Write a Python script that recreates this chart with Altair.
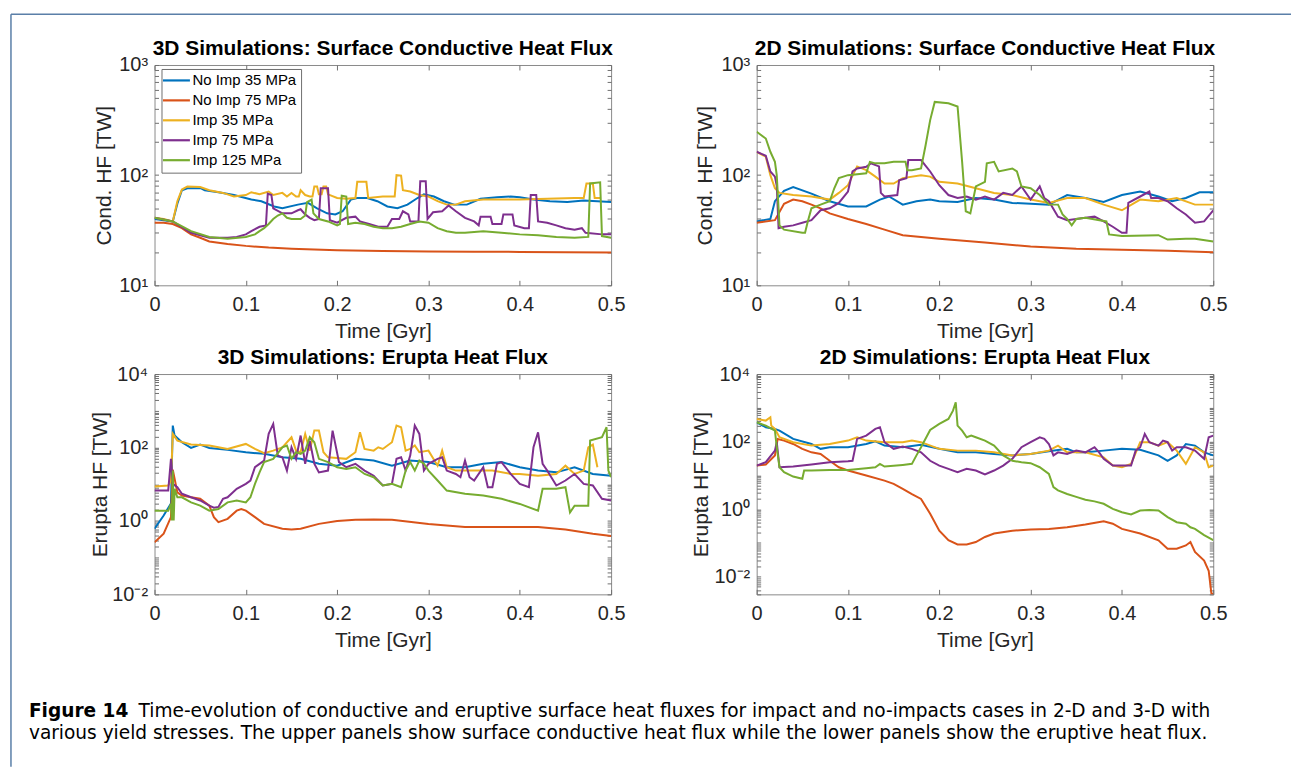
import altair as alt
import pandas as pd

SERIES = ["No Imp 35 MPa", "No Imp 75 MPa", "Imp 35 MPa", "Imp 75 MPa", "Imp 125 MPa"]
COLORS = ["#0072BD", "#D95319", "#EDB120", "#7E2F8E", "#77AC30"]

# ---------------- 3D conductive heat flux (t [Gyr], HF [TW]) ----------------
C3_NOIMP35 = [(0, 40), (0.01, 39), (0.02, 38), (0.025, 55), (0.03, 73), (0.036, 76), (0.051, 76), (0.055, 73),
              (0.07, 70), (0.087, 66), (0.106, 60), (0.117, 58), (0.131, 52), (0.14, 50), (0.157, 54), (0.168, 56),
              (0.178, 50), (0.189, 45), (0.198, 44), (0.206, 47), (0.215, 60), (0.222, 62), (0.233, 62), (0.244, 58),
              (0.255, 52), (0.266, 50), (0.277, 54), (0.288, 62), (0.295, 67), (0.306, 64), (0.317, 58), (0.328, 54),
              (0.342, 54), (0.357, 61), (0.375, 63), (0.39, 64), (0.4, 63), (0.415, 60), (0.433, 58), (0.452, 57),
              (0.47, 59), (0.5, 57)]
C3_NOIMP75 = [(0, 37), (0.01, 37), (0.02, 36), (0.03, 33), (0.04, 29), (0.05, 27), (0.06, 25), (0.08, 23.7),
              (0.1, 22.8), (0.125, 22), (0.15, 21.5), (0.2, 20.8), (0.25, 20.5), (0.3, 20.3), (0.35, 20.2),
              (0.4, 20.1), (0.45, 20), (0.5, 19.9)]
C3_IMP35 = [(0, 41), (0.01, 40), (0.02, 38), (0.025, 58), (0.03, 74), (0.036, 79), (0.05, 78), (0.06, 73),
            (0.075, 69), (0.087, 64), (0.1, 66), (0.106, 70), (0.115, 67), (0.125, 71), (0.13, 66), (0.14, 69),
            (0.145, 64), (0.15, 69), (0.155, 64), (0.158, 64), (0.16, 73), (0.165, 66), (0.17, 64), (0.173, 64),
            (0.175, 79), (0.178, 79), (0.18, 67), (0.183, 67), (0.185, 79), (0.188, 79), (0.19, 67), (0.2, 62),
            (0.21, 61), (0.22, 62), (0.222, 87), (0.232, 87), (0.234, 62), (0.25, 64), (0.263, 64), (0.265, 100),
            (0.27, 99), (0.272, 73), (0.28, 71), (0.29, 66), (0.3, 64), (0.31, 58), (0.32, 54), (0.33, 54),
            (0.34, 58), (0.36, 60), (0.4, 60), (0.43, 61), (0.46, 62), (0.47, 62), (0.473, 84), (0.48, 84),
            (0.482, 62), (0.488, 62)]
C3_IMP75 = [(0, 41), (0.02, 38), (0.04, 30), (0.06, 27), (0.08, 27), (0.09, 27.5), (0.1, 29), (0.106, 31),
            (0.115, 34), (0.122, 35), (0.124, 68), (0.128, 66), (0.13, 50), (0.14, 45), (0.15, 45), (0.157, 48),
            (0.16, 49), (0.165, 44), (0.17, 41), (0.175, 39), (0.18, 40), (0.182, 76), (0.19, 76), (0.192, 39),
            (0.2, 37), (0.21, 41), (0.22, 42), (0.225, 38), (0.235, 36), (0.245, 34), (0.255, 34), (0.26, 40),
            (0.268, 40), (0.272, 47), (0.278, 44), (0.28, 38), (0.289, 38), (0.291, 88), (0.297, 88), (0.299, 40),
            (0.305, 46), (0.315, 47), (0.322, 53), (0.33, 47), (0.34, 41), (0.35, 38), (0.355, 35), (0.357, 42),
            (0.368, 42), (0.37, 36), (0.38, 36), (0.382, 44), (0.392, 44), (0.394, 35), (0.405, 33), (0.41, 33),
            (0.412, 66), (0.418, 66), (0.42, 38), (0.43, 37), (0.44, 35), (0.45, 33), (0.46, 32), (0.468, 33),
            (0.472, 30), (0.49, 29), (0.5, 29)]
C3_IMP125 = [(0, 41), (0.02, 38), (0.04, 31), (0.06, 27.5), (0.08, 26.5), (0.1, 27.5), (0.11, 29), (0.115, 31),
             (0.12, 33), (0.125, 36), (0.13, 40), (0.135, 43), (0.14, 45), (0.145, 41), (0.15, 40), (0.16, 40),
             (0.165, 43), (0.167, 57), (0.172, 60), (0.174, 45), (0.18, 40), (0.19, 38), (0.2, 35), (0.203, 36),
             (0.205, 65), (0.21, 64), (0.212, 36), (0.22, 37), (0.23, 36), (0.24, 34), (0.25, 33), (0.26, 33),
             (0.27, 34), (0.28, 36), (0.29, 38), (0.3, 37), (0.31, 33), (0.32, 31), (0.33, 30), (0.34, 30),
             (0.36, 31), (0.38, 30), (0.4, 29), (0.42, 28.5), (0.44, 27.5), (0.46, 27), (0.475, 27.5), (0.477, 84),
             (0.488, 86), (0.49, 28), (0.5, 27)]

# ---------------- 2D conductive heat flux ----------------
C2_NOIMP35 = [(0, 38), (0.015, 40), (0.02, 58), (0.03, 72), (0.04, 78), (0.06, 68), (0.08, 58), (0.1, 52),
              (0.12, 52), (0.135, 60), (0.145, 64), (0.16, 54), (0.175, 58), (0.19, 60), (0.2, 58), (0.22, 57),
              (0.24, 62), (0.26, 60), (0.28, 56), (0.3, 55), (0.32, 54), (0.34, 66), (0.36, 62), (0.38, 57),
              (0.4, 66), (0.42, 71), (0.44, 64), (0.455, 58), (0.47, 62), (0.485, 70), (0.5, 70)]
C2_NOIMP75 = [(0, 37), (0.02, 39), (0.03, 55), (0.04, 60), (0.05, 58), (0.06, 54), (0.07, 50), (0.08, 45),
              (0.1, 40), (0.12, 36), (0.14, 32), (0.16, 28.5), (0.2, 26.5), (0.25, 24.5), (0.3, 22.5),
              (0.35, 21.5), (0.4, 21), (0.45, 20.6), (0.5, 20)]
C2_IMP35 = [(0, 163), (0.01, 147), (0.015, 100), (0.02, 76), (0.025, 69), (0.04, 66), (0.06, 64), (0.08, 60),
            (0.09, 69), (0.1, 81), (0.11, 120), (0.12, 111), (0.13, 97), (0.14, 84), (0.15, 84), (0.16, 94),
            (0.18, 100), (0.19, 97), (0.2, 87), (0.22, 84), (0.24, 76), (0.26, 69), (0.28, 66), (0.3, 60),
            (0.32, 56), (0.34, 62), (0.36, 62), (0.38, 54), (0.4, 48), (0.42, 60), (0.44, 58), (0.46, 62),
            (0.48, 54), (0.5, 54)]
C2_IMP75 = [(0, 163), (0.01, 150), (0.015, 108), (0.02, 97), (0.022, 80), (0.024, 33), (0.03, 34), (0.04, 35),
            (0.05, 37), (0.06, 39), (0.07, 48), (0.08, 50), (0.09, 56), (0.1, 71), (0.105, 108), (0.11, 115),
            (0.12, 119), (0.125, 128), (0.134, 120), (0.136, 69), (0.14, 64), (0.154, 66), (0.156, 90),
            (0.164, 94), (0.166, 137), (0.18, 137), (0.19, 108), (0.2, 81), (0.21, 66), (0.22, 62), (0.23, 64),
            (0.24, 60), (0.25, 64), (0.26, 60), (0.27, 69), (0.28, 66), (0.29, 79), (0.3, 60), (0.31, 79),
            (0.315, 62), (0.32, 58), (0.33, 42), (0.34, 39), (0.36, 41), (0.37, 42), (0.38, 38), (0.39, 34),
            (0.4, 30), (0.405, 30), (0.407, 56), (0.42, 64), (0.43, 71), (0.432, 62), (0.44, 62), (0.45, 58),
            (0.46, 50), (0.47, 44), (0.48, 37), (0.49, 38), (0.5, 48)]
C2_IMP125 = [(0, 248), (0.01, 215), (0.015, 163), (0.02, 132), (0.022, 100), (0.025, 35), (0.03, 32), (0.05, 30),
             (0.053, 30), (0.056, 38), (0.06, 50), (0.07, 54), (0.08, 58), (0.085, 76), (0.09, 94), (0.1, 100),
             (0.12, 104), (0.124, 132), (0.13, 128), (0.14, 128), (0.15, 132), (0.163, 132), (0.165, 111),
             (0.17, 111), (0.18, 115), (0.185, 187), (0.19, 316), (0.195, 462), (0.21, 450), (0.22, 420),
             (0.225, 132), (0.229, 47), (0.234, 45), (0.24, 79), (0.25, 87), (0.252, 128), (0.26, 132),
             (0.265, 108), (0.28, 115), (0.285, 108), (0.29, 79), (0.3, 76), (0.31, 66), (0.32, 54), (0.33, 54),
             (0.335, 44), (0.34, 40), (0.345, 35), (0.35, 40), (0.36, 41), (0.383, 38), (0.386, 29), (0.4, 28),
             (0.44, 28.5), (0.45, 26), (0.47, 26.5), (0.48, 26.5), (0.5, 25)]

# ---------------- 3D erupta heat flux ----------------
E3_NOIMP35 = [(0, 0.61), (0.01, 1.4), (0.018, 3), (0.02, 394), (0.022, 211), (0.03, 139), (0.04, 97), (0.05, 120),
              (0.06, 97), (0.08, 86), (0.1, 74), (0.12, 67), (0.14, 54), (0.16, 49), (0.18, 36), (0.2, 32),
              (0.22, 49), (0.24, 44), (0.26, 32), (0.28, 44), (0.3, 40), (0.32, 29), (0.34, 29), (0.36, 36),
              (0.38, 40), (0.4, 29), (0.42, 23.5), (0.44, 21), (0.46, 29), (0.48, 19), (0.5, 17)]
E3_NOIMP75 = [(0, 0.26), (0.01, 0.45), (0.018, 1.27), (0.02, 25), (0.025, 6), (0.03, 4.9), (0.04, 4.4), (0.05, 4.0),
              (0.06, 2.6), (0.065, 1.27), (0.07, 0.93), (0.08, 1.14), (0.09, 1.9), (0.095, 2.1), (0.1, 1.9),
              (0.11, 1.27), (0.12, 0.83), (0.14, 0.61), (0.15, 0.58), (0.16, 0.61), (0.18, 0.83), (0.2, 0.99),
              (0.22, 1.07), (0.24, 1.09), (0.26, 1.07), (0.3, 0.83), (0.34, 0.68), (0.38, 0.68), (0.42, 0.68),
              (0.45, 0.58), (0.48, 0.45), (0.5, 0.39)]
E3_IMP35 = [(0, 8.6), (0.015, 9.2), (0.018, 12.6), (0.02, 234), (0.025, 154), (0.04, 120), (0.06, 113), (0.08, 91),
            (0.1, 125), (0.11, 91), (0.12, 70), (0.13, 82), (0.14, 101), (0.15, 190), (0.155, 82), (0.16, 74),
            (0.165, 234), (0.17, 82), (0.175, 288), (0.18, 288), (0.185, 74), (0.19, 54), (0.2, 52), (0.21, 49),
            (0.22, 74), (0.225, 259), (0.23, 91), (0.24, 82), (0.245, 101), (0.25, 91), (0.26, 139), (0.265, 394),
            (0.27, 355), (0.275, 82), (0.28, 91), (0.285, 113), (0.29, 74), (0.3, 82), (0.31, 32), (0.315, 82),
            (0.32, 29), (0.33, 23.5), (0.35, 23.5), (0.37, 23.5), (0.39, 19), (0.4, 19), (0.42, 17), (0.44, 19),
            (0.45, 32), (0.46, 19), (0.47, 23.5), (0.475, 101), (0.48, 120), (0.485, 29)]
E3_IMP75 = [(0, 6.7), (0.015, 6.7), (0.018, 49), (0.02, 10.2), (0.025, 8.3), (0.03, 5.5), (0.04, 4.4), (0.05, 3.6),
            (0.06, 2.6), (0.065, 2.3), (0.07, 2.4), (0.075, 4.0), (0.08, 4.4), (0.09, 7.5), (0.1, 10.2),
            (0.105, 12.6), (0.11, 29), (0.12, 44), (0.125, 234), (0.13, 437), (0.135, 60), (0.14, 54),
            (0.145, 23.5), (0.15, 101), (0.155, 49), (0.16, 211), (0.165, 36), (0.17, 154), (0.175, 36),
            (0.18, 21), (0.19, 23.5), (0.195, 288), (0.202, 40), (0.21, 29), (0.22, 36), (0.23, 23.5), (0.24, 17),
            (0.25, 9.2), (0.26, 10.2), (0.265, 49), (0.27, 54), (0.275, 23.5), (0.28, 60), (0.285, 394),
            (0.29, 234), (0.295, 23.5), (0.3, 36), (0.31, 49), (0.315, 54), (0.32, 23.5), (0.33, 19),
            (0.335, 15.5), (0.34, 44), (0.345, 15.5), (0.35, 12.6), (0.36, 29), (0.365, 8.3), (0.37, 8.3),
            (0.375, 36), (0.38, 40), (0.39, 19), (0.4, 10.2), (0.41, 8.3), (0.415, 101), (0.42, 259),
            (0.425, 36), (0.43, 23.5), (0.44, 9.2), (0.45, 12.6), (0.46, 19), (0.47, 10.2), (0.48, 9.2),
            (0.49, 4.0), (0.5, 3.6)]
E3_IMP125 = [(0, 1.9), (0.015, 1.9), (0.018, 2.9), (0.019, 1.03), (0.02, 23.5), (0.021, 1.03), (0.022, 7.5),
             (0.025, 4.4), (0.03, 4.4), (0.04, 3.2), (0.05, 2.6), (0.06, 1.9), (0.07, 2.1), (0.08, 3.2), (0.09, 3.6),
             (0.1, 3.2), (0.105, 4.4), (0.11, 10.2), (0.115, 21), (0.12, 40), (0.13, 49), (0.14, 101), (0.145, 113),
             (0.15, 49), (0.155, 74), (0.16, 67), (0.165, 82), (0.17, 190), (0.175, 139), (0.18, 49), (0.19, 40),
             (0.2, 29), (0.21, 26), (0.22, 29), (0.23, 19), (0.24, 15.5), (0.25, 9.2), (0.26, 10.2), (0.265, 9.2),
             (0.27, 8.3), (0.275, 23.5), (0.28, 40), (0.285, 23.5), (0.29, 44), (0.295, 36), (0.3, 23.5),
             (0.31, 12.6), (0.32, 6.7), (0.34, 5.5), (0.36, 4.9), (0.38, 4.0), (0.4, 2.9), (0.42, 1.9),
             (0.425, 7.5), (0.44, 7.5), (0.45, 8.3), (0.455, 1.7), (0.46, 2.6), (0.475, 2.6), (0.477, 154),
             (0.49, 190), (0.495, 355), (0.497, 23.5), (0.5, 15.5)]

# ---------------- 2D erupta heat flux ----------------
E2_NOIMP35 = [(0, 373), (0.01, 265), (0.02, 237), (0.025, 211), (0.04, 120), (0.06, 85), (0.07, 61), (0.08, 68),
              (0.1, 68), (0.12, 85), (0.13, 102), (0.14, 76), (0.16, 68), (0.18, 81), (0.2, 61), (0.22, 48),
              (0.24, 48), (0.26, 43), (0.28, 39), (0.3, 43), (0.32, 52), (0.34, 61), (0.35, 48), (0.36, 48),
              (0.38, 54), (0.4, 61), (0.42, 57), (0.44, 39), (0.45, 27), (0.46, 39), (0.47, 85), (0.48, 76),
              (0.49, 48), (0.5, 39)]
E2_NOIMP75 = [(0, 19.5), (0.01, 21), (0.02, 39), (0.023, 120), (0.03, 107), (0.04, 85), (0.05, 61), (0.06, 48),
              (0.07, 43), (0.08, 27), (0.09, 17.4), (0.1, 13.9), (0.12, 9.9), (0.14, 7.0), (0.15, 5.6), (0.16, 4.0),
              (0.17, 2.8), (0.18, 2.0), (0.19, 0.73), (0.2, 0.23), (0.21, 0.12), (0.22, 0.09), (0.23, 0.09),
              (0.24, 0.106), (0.25, 0.15), (0.26, 0.19), (0.28, 0.23), (0.3, 0.25), (0.32, 0.26), (0.34, 0.29),
              (0.36, 0.35), (0.38, 0.44), (0.39, 0.37), (0.4, 0.26), (0.42, 0.19), (0.44, 0.12), (0.45, 0.067),
              (0.46, 0.067), (0.47, 0.084), (0.475, 0.106), (0.48, 0.054), (0.49, 0.03), (0.495, 0.015),
              (0.498, 0.0031), (0.5, 0.0031)]
E2_IMP35 = [(0, 468), (0.01, 418), (0.015, 524), (0.016, 297), (0.02, 237), (0.025, 134), (0.04, 96), (0.06, 76),
            (0.08, 85), (0.1, 107), (0.11, 134), (0.12, 107), (0.14, 96), (0.16, 96), (0.17, 107), (0.18, 96),
            (0.2, 61), (0.22, 54), (0.24, 54), (0.26, 48), (0.28, 39), (0.3, 43), (0.32, 54), (0.33, 76),
            (0.34, 48), (0.36, 48), (0.38, 34), (0.39, 19.5), (0.4, 17.4), (0.41, 21.9), (0.42, 96), (0.43, 96),
            (0.44, 76), (0.45, 96), (0.46, 54), (0.47, 21.9), (0.48, 68), (0.49, 48), (0.495, 17.4), (0.5, 19.5)]
E2_IMP75 = [(0, 19.5), (0.01, 24.5), (0.02, 54), (0.022, 96), (0.025, 17.4), (0.04, 18.2), (0.06, 20.9),
            (0.08, 24.5), (0.1, 26), (0.105, 27), (0.11, 120), (0.12, 150), (0.13, 237), (0.135, 265), (0.14, 96),
            (0.15, 61), (0.16, 71), (0.17, 61), (0.18, 48), (0.19, 27), (0.2, 19.5), (0.21, 15.6), (0.22, 12.4),
            (0.23, 15.6), (0.24, 13.9), (0.25, 10.6), (0.26, 13.9), (0.27, 19.5), (0.28, 31), (0.29, 68),
            (0.3, 96), (0.31, 134), (0.315, 120), (0.32, 85), (0.325, 39), (0.33, 48), (0.34, 43), (0.35, 54),
            (0.36, 48), (0.37, 68), (0.375, 48), (0.38, 31), (0.39, 19.5), (0.41, 19.5), (0.415, 54), (0.42, 68),
            (0.425, 169), (0.43, 96), (0.44, 76), (0.445, 107), (0.45, 96), (0.455, 54), (0.46, 68), (0.47, 68),
            (0.48, 54), (0.49, 31), (0.495, 134), (0.5, 150)]
E2_IMP125 = [(0, 373), (0.01, 297), (0.02, 211), (0.022, 68), (0.025, 17.4), (0.03, 12.4), (0.04, 9.2),
             (0.05, 7.9), (0.052, 13.9), (0.06, 13.9), (0.08, 14.5), (0.1, 14.5), (0.12, 16.3), (0.13, 17.4),
             (0.135, 21.9), (0.14, 18.2), (0.16, 20.4), (0.17, 21.9), (0.175, 39), (0.18, 68), (0.19, 221),
             (0.2, 333), (0.21, 468), (0.215, 824), (0.218, 1455), (0.22, 297), (0.225, 211), (0.23, 134),
             (0.235, 150), (0.24, 134), (0.25, 107), (0.26, 76), (0.27, 39), (0.28, 27), (0.29, 24.5), (0.3, 22.9),
             (0.31, 17.4), (0.32, 11.1), (0.325, 4.5), (0.33, 3.6), (0.34, 2.8), (0.35, 2.3), (0.36, 1.9),
             (0.37, 1.7), (0.38, 1.44), (0.39, 1.02), (0.4, 0.81), (0.41, 0.70), (0.42, 0.91), (0.43, 0.95),
             (0.44, 0.91), (0.45, 0.58), (0.46, 0.41), (0.47, 0.37), (0.475, 0.29), (0.48, 0.26), (0.49, 0.17),
             (0.5, 0.12)]

# ---------------- axes ----------------
X_TICKS = [0, 0.1, 0.2, 0.3, 0.4, 0.5]
TOP_MAJOR = [10, 100, 1000]
TOP_LABELS = ["10¹", "10²", "10³"]
BOT_MAJOR = [0.01, 1, 100, 10000]
BOT_LABELS = ["10⁻²", "10⁰", "10²", "10⁴"]
TOP_TICKS = [round(m * 10 ** e, 6) for e in (1, 2) for m in range(1, 10)] + [1000]
BL_TICKS = [round(m * 10 ** e, 6) for e in range(-2, 4) for m in range(1, 10)] + [10000]
BR_TICKS = [0.003, 0.004, 0.005, 0.006, 0.007, 0.008, 0.009] + BL_TICKS

CAPTION_BOLD = "Figure 14"
CAPTION_1 = "Time-evolution of conductive and eruptive surface heat fluxes for impact and no-impacts cases in 2-D and 3-D with"
CAPTION_2 = "various yield stresses. The upper panels show surface conductive heat flux while the lower panels show the eruptive heat flux."

FONT = "Liberation Sans"
CAP_FONT = "DejaVu Sans"
CAP_SIZE = 18.6
TXT = "#262626"
FRAME = "#8a8a8a"

one_row = pd.DataFrame({"a": [0]})


def label_expr(majors, labels):
    parts = [f"abs(datum.value/{m} - 1) < 1e-6 ? '{l}'" for m, l in zip(majors, labels)]
    return " : ".join(parts) + " : ''"


def panel(series_lists, title, ytitle, ydomain, yticks, majors, labels, ytitle_gap, legend=False):
    rows = []
    for name, pts in zip(SERIES, series_lists):
        for i, (t, v) in enumerate(pts):
            rows.append({"series": name, "t": t, "v": v, "i": i})
    df = pd.DataFrame(rows)
    xscale = alt.Scale(domain=[0, 0.5], nice=False, zero=False)
    yscale = alt.Scale(type="log", domain=ydomain, nice=False)
    if legend:
        leg = alt.Legend(title=None, orient="none", legendX=7, legendY=4, direction="vertical",
                         padding=4, strokeColor="#6e6e6e", fillColor="white", cornerRadius=0,
                         labelFont=FONT, labelFontSize=15, labelColor="black", labelLimit=300,
                         symbolType="M-3.6,0H1.8", symbolSize=100, symbolStrokeWidth=2.2,
                         symbolOffset=8, labelOffset=4, rowPadding=4)
    else:
        leg = None
    lines = alt.Chart(df).mark_line(strokeWidth=2, clip=True).encode(
        x=alt.X("t:Q", scale=xscale,
                axis=alt.Axis(orient="bottom", values=X_TICKS, title="Time [Gyr]",
                              labelExpr="datum.value == 0 ? '0' : format(datum.value, '.1f')",
                              tickSize=5, offset=-5, domain=False, labelPadding=9, labelFlush=False,
                              labelOverlap=False, titleY=57, titleBaseline="alphabetic")),
        y=alt.Y("v:Q", scale=yscale,
                axis=alt.Axis(orient="left", values=yticks, title=ytitle,
                              labelExpr=label_expr(majors, labels),
                              tickSize=4, offset=-4, domain=False, labelPadding=7, labelFlush=False,
                              labelOverlap=False, titleX=-ytitle_gap - 4, titleBaseline="alphabetic")),
        color=alt.Color("series:N", scale=alt.Scale(domain=SERIES, range=COLORS), legend=leg),
        order="i:Q",
    )
    frame = alt.Chart(df).mark_point(opacity=0).encode(
        x=alt.X("t:Q", scale=xscale,
                axis=alt.Axis(orient="top", values=X_TICKS, labels=False, title=None,
                              tickSize=5, offset=-5, domain=False)),
        y=alt.Y("v:Q", scale=yscale,
                axis=alt.Axis(orient="right", values=yticks, labels=False, title=None,
                              tickSize=4, offset=-4, domain=False)),
    )
    head = alt.Chart(one_row).mark_text(font=FONT, fontSize=21, fontWeight="bold", color="black",
                                        align="center", baseline="alphabetic").encode(
        x=alt.value(229), y=alt.value(-10.5), text=alt.value(title))
    return alt.layer(lines, frame, head).resolve_axis(x="independent", y="independent").properties(
        width=458, height=221)


p1 = panel([C3_NOIMP35, C3_NOIMP75, C3_IMP35, C3_IMP75, C3_IMP125],
           "3D Simulations: Surface Conductive Heat Flux", "Cond. HF [TW]", [10, 1000],
           TOP_TICKS, TOP_MAJOR, TOP_LABELS, 44.5, legend=True)
p2 = panel([C2_NOIMP35, C2_NOIMP75, C2_IMP35, C2_IMP75, C2_IMP125],
           "2D Simulations: Surface Conductive Heat Flux", "Cond. HF [TW]", [10, 1000],
           TOP_TICKS, TOP_MAJOR, TOP_LABELS, 45.5)
p3 = panel([E3_NOIMP35, E3_NOIMP75, E3_IMP35, E3_IMP75, E3_IMP125],
           "3D Simulations: Erupta Heat Flux", "Erupta HF [TW]", [0.01, 10000],
           BL_TICKS, BOT_MAJOR, BOT_LABELS, 48.5)
p4 = panel([E2_NOIMP35, E2_NOIMP75, E2_IMP35, E2_IMP75, E2_IMP125],
           "2D Simulations: Erupta Heat Flux", "Erupta HF [TW]", [0.003, 10000],
           BR_TICKS, BOT_MAJOR, BOT_LABELS, 49.5)

# decoration cell: page frame lines and the figure caption (origin = x 153, y 683)
base = alt.Chart(one_row)
BORDER = "#5a7fa8"
top_line = base.mark_rule(color=BORDER, strokeWidth=1.5).encode(
    x=alt.value(-144), x2=alt.value(1140), y=alt.value(-671))
left_line = base.mark_rule(color=BORDER, strokeWidth=1.5).encode(
    x=alt.value(-144), y=alt.value(-671), y2=alt.value(84))
cap_b = base.mark_text(align="left", baseline="alphabetic", font=CAP_FONT, fontSize=CAP_SIZE,
                       fontWeight="bold", color="black").encode(
    x=alt.value(-126), y=alt.value(34), text=alt.value(CAPTION_BOLD))
cap_1 = base.mark_text(align="left", baseline="alphabetic", font=CAP_FONT, fontSize=CAP_SIZE,
                       color="black").encode(
    x=alt.value(-16), y=alt.value(34), text=alt.value(CAPTION_1))
cap_2 = base.mark_text(align="left", baseline="alphabetic", font=CAP_FONT, fontSize=CAP_SIZE,
                       color="black").encode(
    x=alt.value(-126), y=alt.value(56.5), text=alt.value(CAPTION_2))
decor = alt.layer(top_line, left_line, cap_b, cap_1, cap_2).properties(
    width=458, height=1, view=alt.ViewBackground(stroke="transparent"))

chart = alt.concat(p1, p2, p3, p4, decor, columns=2, spacing={"row": 89, "column": 146},
                   bounds="flush").resolve_scale(color="independent").properties(
    padding={"left": 9, "top": 11, "right": 0, "bottom": 0}, background="white"
).configure_view(stroke=FRAME, strokeWidth=1).configure_axis(
    labelFont=FONT, labelFontSize=20, labelColor=TXT, titleFont=FONT, titleFontSize=21,
    titleFontWeight="normal", titleColor=TXT, tickColor="#6f6f6f", grid=False
)

chart.save("out.html", embed_options={"renderer": "svg", "actions": False})
